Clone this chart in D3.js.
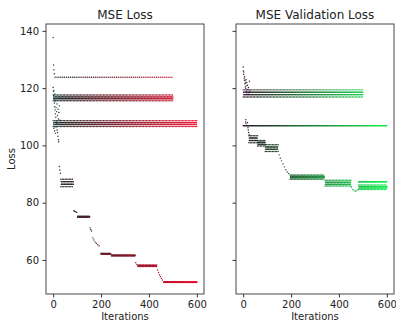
<!DOCTYPE html>
<html>
<head>
<meta charset="utf-8">
<script src="https://cdn.jsdelivr.net/npm/d3@7"></script>
<style>
  body { margin: 0; background: #fff; }
  text { font-family: "DejaVu Sans", sans-serif; }
</style>
</head>
<body>
<svg id="chart" width="396" height="322"></svg>
<script>
const iterTicks = [0, 200, 400, 600];
const lossTicks = [60, 80, 100, 120, 140];
const panelTitles = ['MSE Loss', 'MSE Validation Loss'];

// segments: [fromIter, toIter, low, high]  (low == high -> flat, else zig-zag band)
// points:   [iter, loss]
const trainEarly = [[0, 137.7], [2, 128.1], [3, 126.4], [5, 125], [0, 120.2], [1, 118.8], [2, 117.5], [3, 119.2],
  [4, 116.2], [5, 114.8], [6, 113.5], [7, 118], [8, 112.4], [9, 111], [10, 115.5], [11, 109.8], [12, 113.2],
  [13, 108.5], [14, 111.8], [15, 107.6], [16, 114.5], [18, 110.4], [20, 112.6], [22, 109.2], [24, 111.5],
  [26, 113.8], [28, 108.8], [3, 106], [6, 105], [9, 104.2], [12, 106.4]];
const trainFlatA = [[8, 500, 123.8, 123.8]];
const trainBandB = [[0, 500, 115.6, 117.6]];
const trainBandC = [[0, 600, 106.6, 108.6]];
const trainDecayPts = [[16, 105.4], [18, 104.4], [20, 103.2], [22, 102], [23, 101.3], [26, 92.6], [28, 91.4],
  [30, 90.3], [86, 77.2], [90, 77], [94, 76.8], [98, 76.6], [154, 71.2], [157, 70.6], [160, 70.1], [166, 67.7],
  [170, 67], [175, 66.3], [180, 65.8], [186, 65.3], [192, 64.9], [345, 59], [350, 58.4], [436, 56.5],
  [440, 55.6], [444, 54.8], [448, 54.2], [452, 53.6], [456, 53]];
const trainDecaySegs = [[32, 84, 85.6, 88.2], [102, 152, 74.9, 75.3], [200, 240, 62, 62.3],
  [244, 342, 61.4, 61.7], [354, 432, 57.7, 58.2], [462, 600, 52.1, 52.4]];

const valEarly = [[0, 127.4], [1, 126], [2, 124.8], [3, 125.6], [4, 123.5], [5, 122.8], [6, 124], [7, 121.5],
  [8, 122.6], [9, 120.4], [10, 121.8], [11, 119.8], [12, 123], [13, 120.8], [14, 118.9], [15, 122], [16, 117.9],
  [18, 121], [20, 119.5], [22, 120.2], [24, 118.4], [26, 122.4], [28, 119], [10, 108.2], [12, 107.6], [11, 109]];
const valBandA = [[0, 500, 116.9, 119.4]];
const valFlatB = [[0, 600, 106.9, 106.9]];
const valDecayPts = [[18, 108], [20, 106.2], [21, 105.4], [23, 104.5], [25, 103.7], [150, 96.7], [155, 95.5],
  [160, 94.6], [166, 93.5], [172, 92.5], [178, 91.5], [184, 90.7], [190, 90.2], [452, 85.4], [458, 84.6],
  [464, 84.2], [470, 84], [476, 84.4]];
const valDecaySegs = [[24, 60, 100.9, 103.4], [60, 92, 99.8, 101.7], [92, 146, 97.9, 100.2],
  [196, 338, 88.2, 89.7], [342, 450, 85.8, 87.8], [482, 600, 84.6, 86.2], [482, 600, 87.3, 87.3]];

const zigCycle = [0, 0.33, 0.67, 1, 0.67, 0.33];

function expand(segs, pts, step) {
  const out = pts.map(([i, v]) => ({ i, v }));
  segs.forEach(([a, b, lo, hi]) => {
    let k = 0;
    for (let i = a; i <= b; i += step, k++) {
      if (lo === hi) {
        out.push({ i, v: lo });
      } else {
        const f = zigCycle[k % zigCycle.length];
        out.push({ i, v: lo + f * (hi - lo) });
        out.push({ i, v: hi - f * (hi - lo) });
      }
    }
  });
  return out;
}

const trainData = [].concat(
  expand([], trainEarly, 2),
  expand(trainFlatA, [], 8),
  expand(trainBandB, [], 2),
  expand(trainBandC, [], 2),
  expand(trainDecaySegs, trainDecayPts, 2)
);
const valData = [].concat(
  expand([], valEarly, 2),
  expand(valBandA, [], 2),
  expand(valFlatB, [], 2),
  expand(valDecaySegs, valDecayPts, 2)
);

const trainColor = d3.scaleLinear().domain([0, 35, 600])
  .range(['#1c4444', '#222222', '#f01030']).clamp(true);
const valColor = d3.scaleLinear().domain([0, 35, 600])
  .range(['#461440', '#222222', '#10f050']).clamp(true);

const svg = d3.select('#chart');
const plotTop = 24, plotBottom = 294;
const panels = [
  { left: 46, right: 204, data: trainData, color: trainColor, labels: true },
  { left: 236, right: 394, data: valData, color: valColor, labels: false }
];

const y = d3.scaleLinear().domain([48.1, 142.4]).range([plotBottom, plotTop]);

panels.forEach((p, idx) => {
  const x = d3.scaleLinear().domain([-30, 630]).range([p.left, p.right]);
  const g = svg.append('g');

  g.append('g')
    .selectAll('circle')
    .data(p.data)
    .join('circle')
    .attr('cx', d => x(d.i))
    .attr('cy', d => y(d.v))
    .attr('r', 0.72)
    .attr('fill', d => p.color(d.i));

  const yAxis = d3.axisLeft(y).tickValues(lossTicks).tickSize(3.5).tickPadding(3.5)
    .tickFormat(p.labels ? d3.format('d') : () => '');
  const xAxis = d3.axisBottom(x).tickValues(iterTicks).tickSize(3.5).tickPadding(3.5)
    .tickFormat(d3.format('d'));

  g.append('g').attr('transform', `translate(${p.left},0)`).call(yAxis);
  g.append('g').attr('transform', `translate(0,${plotBottom})`).call(xAxis);
  g.selectAll('.domain').remove();
  g.selectAll('.tick line').attr('stroke', '#333');
  g.selectAll('.tick text').attr('fill', '#222').style('font-size', '10px')
    .style('font-family', '"DejaVu Sans", sans-serif');

  g.append('rect')
    .attr('x', p.left).attr('y', plotTop)
    .attr('width', p.right - p.left).attr('height', plotBottom - plotTop)
    .attr('fill', 'none').attr('stroke', '#333').attr('stroke-width', 0.9);

  g.append('text')
    .attr('x', (p.left + p.right) / 2).attr('y', 19)
    .attr('text-anchor', 'middle').attr('fill', '#222')
    .style('font-size', '12px')
    .text(panelTitles[idx]);

  g.append('text')
    .attr('x', (p.left + p.right) / 2).attr('y', 319.5)
    .attr('text-anchor', 'middle').attr('fill', '#222')
    .style('font-size', '10px')
    .text('Iterations');
});

svg.append('text')
  .attr('transform', `translate(15,${(plotTop + plotBottom) / 2}) rotate(-90)`)
  .attr('text-anchor', 'middle').attr('fill', '#222')
  .style('font-size', '10px')
  .text('Loss');
</script>
</body>
</html>
